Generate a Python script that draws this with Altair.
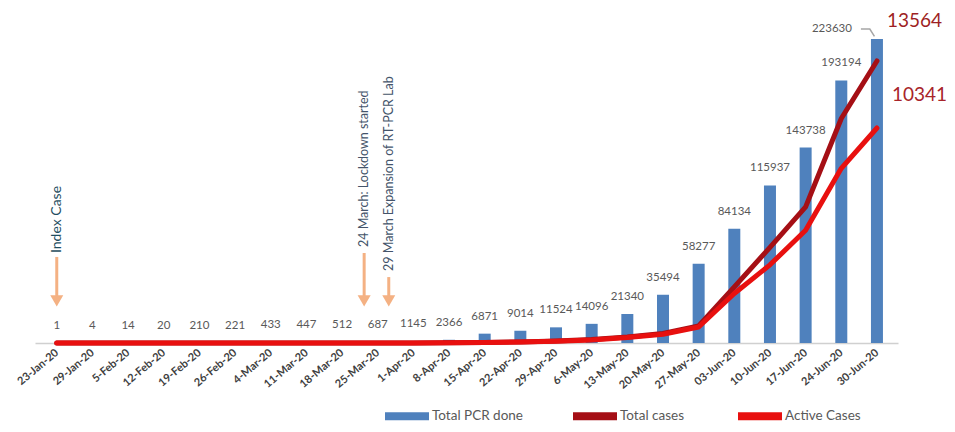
import altair as alt
import pandas as pd

dates = ["23-Jan-20", "29-Jan-20", "5-Feb-20", "12-Feb-20", "19-Feb-20", "26-Feb-20",
         "4-Mar-20", "11-Mar-20", "18-Mar-20", "25-Mar-20", "1-Apr-20", "8-Apr-20",
         "15-Apr-20", "22-Apr-20", "29-Apr-20", "6-May-20", "13-May-20", "20-May-20",
         "27-May-20", "03-Jun-20", "10-Jun-20", "17-Jun-20", "24-Jun-20", "30-Jun-20"]
pcr_done = [1, 4, 14, 20, 210, 221, 433, 447, 512, 687, 1145, 2366, 6871, 9014, 11524,
            14096, 21340, 35494, 58277, 84134, 115937, 143738, 193194, 223630]
total_cases = [0, 0, 0, 0, 0, 0, 0, 0, 0, 2, 5, 15, 30, 50, 100, 170, 290, 460, 820,
               2700, 4600, 6550, 10800, 13564]
active_cases = [0, 0, 0, 0, 0, 0, 0, 0, 0, 2, 5, 12, 25, 45, 90, 150, 260, 420, 770,
                2380, 3760, 5420, 8400, 10341]
series_names = ["Total PCR done", "Total  cases", "Active Cases"]
series_colors = ["#4F81BD", "#A50F15", "#E8100F"]

# annotations (x in category index units, y in PCR-count units)
ann_x = [0, 8.62, 9.31]
ann_text = ["Index Case", "24 March: Lockdown started", "29 March Expansion of RT-PCR Lab"]
ann_text_y = [66200, 70600, 53000]
ann_text_color = ["#1F4E5F", "#44546A", "#44546A"]
ann_text_size = [14, 12.5, 12.5]
arrow_top = [63300, 66200, 48500]
arrow_base = [34500, 34500, 34500]
arrow_tip = [31000, 31000, 31000]

BAR_MAX = 237608
LINE_MAX = 15536
XDOM = [-0.47, 23.45]
idx = list(range(len(dates)))

df = pd.DataFrame({"i": idx, "date": dates, "pcr": pcr_done,
                   "total": total_cases, "active": active_cases})
df["series"] = series_names[0]
df_lines = pd.concat([
    pd.DataFrame({"i": idx, "v": total_cases, "series": series_names[1]}),
    pd.DataFrame({"i": idx, "v": active_cases, "series": series_names[2]}),
])
ann = pd.DataFrame({"i": ann_x, "text": ann_text, "ty": ann_text_y, "col": ann_text_color,
                    "size": ann_text_size, "a1": arrow_top, "a2": arrow_base, "tip": arrow_tip})

label_expr = "[" + ",".join("'%s'" % d for d in dates) + "][datum.value]"
xenc = alt.X("i:Q", scale=alt.Scale(domain=XDOM, nice=False, zero=False),
             axis=alt.Axis(values=idx, labelExpr=label_expr, title=None, ticks=False,
                           grid=False, labelAngle=-40, labelAlign="right",
                           labelBaseline="middle", labelPadding=8, labelFontSize=11,
                           labelFontWeight="bold", labelColor="#404040", labelFont="Lato",
                           labelOverlap=False, labelBound=False, labelFlush=False,
                           domainColor="#d0d0d0", domainWidth=1.5))
ybar = lambda f: alt.Y(f, scale=alt.Scale(domain=[0, BAR_MAX]), axis=None)
yline = alt.Y("v:Q", scale=alt.Scale(domain=[0, LINE_MAX]), axis=None)

bars = alt.Chart(df).mark_bar(size=12).encode(
    x=xenc, y=ybar("pcr:Q"),
    fill=alt.Fill("series:N", scale=alt.Scale(domain=series_names, range=series_colors),
                  legend=alt.Legend(orient="none", legendX=350, legendY=374,
                                    direction="horizontal", title=None,
                                    symbolType="M-1,-0.18H1V0.18H-1Z", symbolSize=1936,
                                    symbolStrokeWidth=0, labelFontSize=13.5,
                                    labelColor="#595959", labelFont="Lato",
                                    columnPadding=50, labelOffset=3)))

labels = alt.Chart(df).transform_filter("datum.i < 23").mark_text(
    dy=-17, fontSize=11.5, color="#595959", font="Lato", baseline="middle").encode(
    x=xenc, y=ybar("pcr:Q"), text="pcr:Q")
last_label = alt.Chart(df).transform_filter("datum.i == 23").mark_text(
    dx=-45, dy=-10, fontSize=11.5, color="#595959", font="Lato", baseline="middle").encode(
    x=xenc, y=ybar("pcr:Q"), text="pcr:Q")
leader = alt.Chart(pd.DataFrame({"i": [22.55, 22.8, 22.93], "v": [231000, 231000, 225500]})
                   ).mark_line(color="#a6a6a6", strokeWidth=1.5).encode(
    x=xenc, y=ybar("v:Q"))

shafts = alt.Chart(ann).mark_rule(color="#F4B183", strokeWidth=3).encode(
    x=xenc, y=ybar("a1:Q"), y2="a2:Q")
heads = alt.Chart(ann).mark_point(shape="triangle-down", filled=True, opacity=1,
                                  color="#F4B183", size=170).encode(
    x=xenc, y=ybar("tip:Q"))
ann_texts = alt.Chart(ann).mark_text(angle=270, align="left", baseline="middle",
                                     font="Lato").encode(
    x=xenc, y=ybar("ty:Q"), text="text:N",
    color=alt.Color("col:N", scale=None), size=alt.Size("size:Q", scale=None))

lines = alt.Chart(df_lines).mark_line(strokeWidth=5, strokeCap="round",
                                      strokeJoin="round").encode(
    x=xenc, y=yline,
    stroke=alt.Stroke("series:N", scale=alt.Scale(domain=series_names[1:],
                                                  range=series_colors[1:]), legend=None),
    order=alt.Order("i:Q"))
end_total = alt.Chart(df_lines).transform_filter(
    "datum.i == 23 && datum.series == 'Total  cases'").mark_text(
    dx=10, dy=-40, align="left", baseline="middle", fontSize=19, font="Lato",
    color="#9E1F24").encode(x=xenc, y=yline, text="v:Q")
end_active = alt.Chart(df_lines).transform_filter(
    "datum.i == 23 && datum.series == 'Active Cases'").mark_text(
    dx=15, dy=-33, align="left", baseline="middle", fontSize=19, font="Lato",
    color="#A8242A").encode(x=xenc, y=yline, text="v:Q")

chart = alt.layer(bars, labels, last_label, leader, shafts, heads, ann_texts,
                  lines, end_total, end_active).resolve_scale(
    y="independent").properties(
    width=863, height=323, background="white",
    autosize=alt.AutoSizeParams(type="none"),
    padding={"left": 27, "top": 12, "right": 49, "bottom": 81},
).configure_view(strokeWidth=0, stroke="transparent").configure_axisX(labelOverlap=False)

chart.save("out.html", embed_options={"renderer": "svg", "actions": False})
